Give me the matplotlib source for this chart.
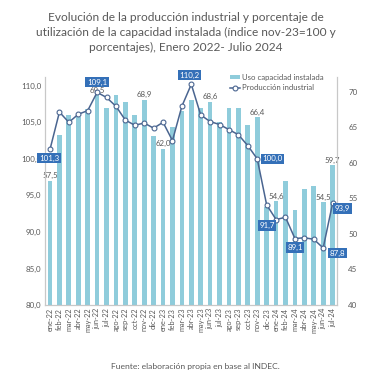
import matplotlib
matplotlib.use("Agg")
import matplotlib.pyplot as plt
from matplotlib.lines import Line2D
from matplotlib.patches import Patch

plt.rcParams['font.family'] = ['Lato', 'DejaVu Sans']

months = ['ene-22', 'feb-22', 'mar-22', 'abr-22', 'may-22', 'jun-22', 'jul-22',
          'ago-22', 'sep-22', 'oct-22', 'nov-22', 'dic-22',
          'ene-23', 'feb-23', 'mar-23', 'abr-23', 'may-23', 'jun-23', 'jul-23',
          'ago-23', 'sep-23', 'oct-23', 'nov-23', 'dic-23',
          'ene-24', 'feb-24', 'mar-24', 'abr-24', 'may-24', 'jun-24', 'jul-24']
# uso de capacidad instalada (%), eje derecho
capacidad = [57.5, 63.9, 66.7, 66.4, 67.6, 69.5, 67.8, 69.6, 68.6, 66.8, 68.9, 63.8,
             62.0, 65.0, 67.3, 68.9, 67.7, 68.6, 65.8, 67.8, 67.8, 65.4, 66.4, 53.8,
             54.6, 57.5, 53.4, 56.4, 56.8, 54.5, 59.7]
# produccion industrial (indice nov-23=100), eje izquierdo
produccion = [101.3, 106.4, 105.0, 106.1, 106.6, 109.1, 108.4, 107.2, 105.3, 104.6, 104.9, 104.2,
              105.0, 102.5, 107.2, 110.2, 106.0, 105.1, 104.7, 104.0, 103.3, 101.8, 100.0, 93.7,
              91.7, 92.0, 89.1, 89.2, 89.0, 87.8, 93.9]

# which points get labels, with offsets in pixels
cap_labels = ['ene-22', 'jun-22', 'nov-22', 'ene-23', 'jun-23', 'nov-23', 'ene-24', 'jun-24', 'jul-24']
prod_labels = {'ene-22': (-1, -9), 'jun-22': (0, 10), 'abr-23': (-2, 9), 'nov-23': (15, 0),
               'ene-24': (-9, -6), 'mar-24': (0, -9), 'jun-24': (14, -5), 'jul-24': (10, -5)}

bar_color = '#8FCCDB'
line_color = '#4A6590'
box_color = '#3470B8'
gray = '#595959'

def fmt(v, d=1):
    return f"{v:.{d}f}".replace('.', ',')

fig = plt.figure(figsize=(3.75, 3.87), dpi=100)
ax = fig.add_axes([45.3 / 375, 1 - 305 / 387, 292 / 375, 228 / 387])
ax2 = ax.twinx()

x = list(range(len(months)))
ax2.bar(x, capacidad, width=0.5, color=bar_color, zorder=1)
ax.plot(x, produccion, color=line_color, lw=1.1, marker='o', ms=3.5,
        mfc='white', mec=line_color, mew=0.8, zorder=3)

ax.set_zorder(ax2.get_zorder() + 1)
ax.patch.set_visible(False)

ax.set_xlim(-0.5, len(months) - 0.5)
ax.set_ylim(80, 111.2)
ax2.set_ylim(40, 72.1)
ax.set_yticks([80, 85, 90, 95, 100, 105, 110])
ax.set_yticklabels([fmt(v) for v in [80, 85, 90, 95, 100, 105, 110]])
ax2.set_yticks([40, 45, 50, 55, 60, 65, 70])
ax.set_xticks(x)
ax.set_xticklabels(months, rotation=90)

for a in (ax, ax2):
    a.spines['top'].set_visible(False)
    for s in ('left', 'right', 'bottom'):
        a.spines[s].set_color('#C8C8C8')
        a.spines[s].set_linewidth(0.8)
    a.tick_params(length=0, labelsize=5.7, colors=gray, pad=3)
ax.tick_params(axis='x', labelsize=5.3, pad=2)
ax2.tick_params(axis='y', pad=8)

for m in cap_labels:
    i = months.index(m)
    ax2.annotate(fmt(capacidad[i]), (i, capacidad[i]), xytext=(0, 1.5),
                 textcoords='offset pixels', ha='center', va='bottom',
                 fontsize=5.7, color=gray, zorder=2)

for m, (dx, dy) in prod_labels.items():
    i = months.index(m)
    ax.annotate(fmt(produccion[i]), (i, produccion[i]), xytext=(dx, dy),
                textcoords='offset pixels', ha='center', va='center',
                fontsize=5.7, color='white', zorder=5,
                bbox=dict(boxstyle='square,pad=0.2', fc=box_color, ec='none'))

handles = [Patch(facecolor=bar_color, edgecolor='none'),
           Line2D([0], [0], color=line_color, lw=1.1, marker='o', ms=3.5,
                  mfc='white', mec=line_color, mew=0.8)]
fig.legend(handles, ['Uso capacidad instalada', 'Producción industrial'],
           loc='upper left', bbox_to_anchor=(226 / 375, 1 - 70 / 387),
           frameon=False, fontsize=5.6, labelcolor=gray, handlelength=1.3,
           handleheight=0.5, handletextpad=0.3, labelspacing=0.45, borderpad=0)

fig.text(0.495, 1 - 12 / 387,
         'Evolución de la producción industrial y porcentaje de\n'
         'utilización de la capacidad instalada (índice nov-23=100 y\n'
         'porcentajes), Enero 2022- Julio 2024',
         ha='center', va='top', fontsize=8.6, color=gray, linespacing=1.45)
fig.text(0.52, 1 - 367 / 387, 'Fuente: elaboración propia en base al INDEC.',
         ha='center', va='center', fontsize=6.1, color=gray)

fig.savefig('out.png', dpi=100)
